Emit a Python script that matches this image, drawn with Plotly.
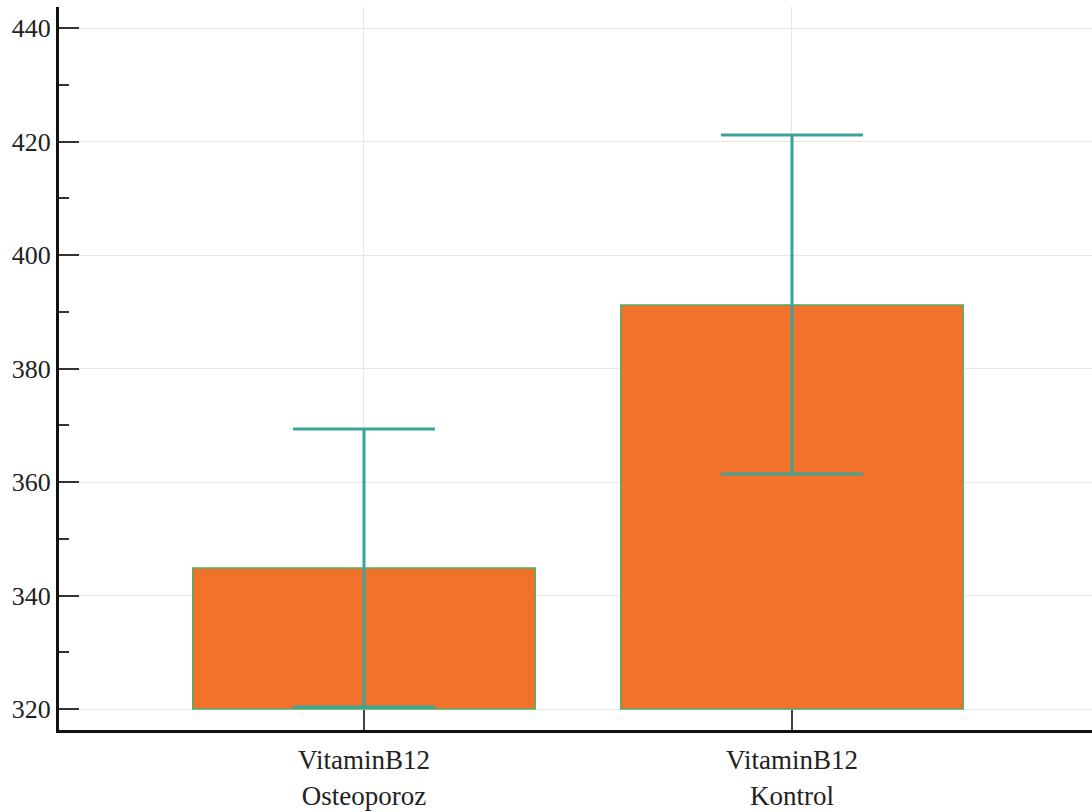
import plotly.graph_objects as go

# Mean vitamin B12 levels with error bars
categories = ["VitaminB12<br>Osteoporoz", "VitaminB12<br>Kontrol"]
means = [344.85, 391.2]
err_plus = [24.5, 29.95]
err_minus = [24.5, 29.8]
base_value = 320

fig = go.Figure()
fig.add_trace(go.Bar(
    x=categories,
    y=[m - base_value for m in means],
    base=base_value,
    width=0.8,
    marker=dict(color="#f2712b", line=dict(color="#4caf64", width=1.5)),
    error_y=dict(
        type="data", symmetric=False,
        array=err_plus, arrayminus=err_minus,
        color="#3aa39a", thickness=3, width=71,
    ),
    showlegend=False,
))

serif = "'Times New Roman', 'Liberation Serif', 'DejaVu Serif', serif"
fig.update_layout(
    width=1092, height=812,
    margin=dict(l=59, r=0, t=7, b=82),
    paper_bgcolor="white", plot_bgcolor="white",
    font=dict(family=serif, size=26, color="#222"),
    bargap=0.2,
)
fig.update_xaxes(
    range=[-0.7126, 1.701],
    showline=True, linecolor="#111", linewidth=3,
    showgrid=True, gridcolor="#e6e6e6", gridwidth=1,
    ticks="inside", ticklen=20, tickwidth=1.5, tickcolor="#444",
    ticklabelstandoff=4,
    tickfont=dict(family=serif, size=27, color="#222"),
)
fig.update_yaxes(
    range=[316.3, 443.7],
    tickvals=[320, 340, 360, 380, 400, 420, 440],
    showline=True, linecolor="#111", linewidth=3,
    showgrid=True, gridcolor="#e6e6e6", gridwidth=1,
    zeroline=False,
    ticks="inside", ticklen=20, tickwidth=2, tickcolor="#333",
    minor=dict(tickvals=[330, 350, 370, 390, 410, 430], ticks="inside",
               ticklen=10, tickwidth=1.5, tickcolor="#333", showgrid=False),
    tickfont=dict(family=serif, size=26, color="#222"),
)

fig.write_html("out.html")
